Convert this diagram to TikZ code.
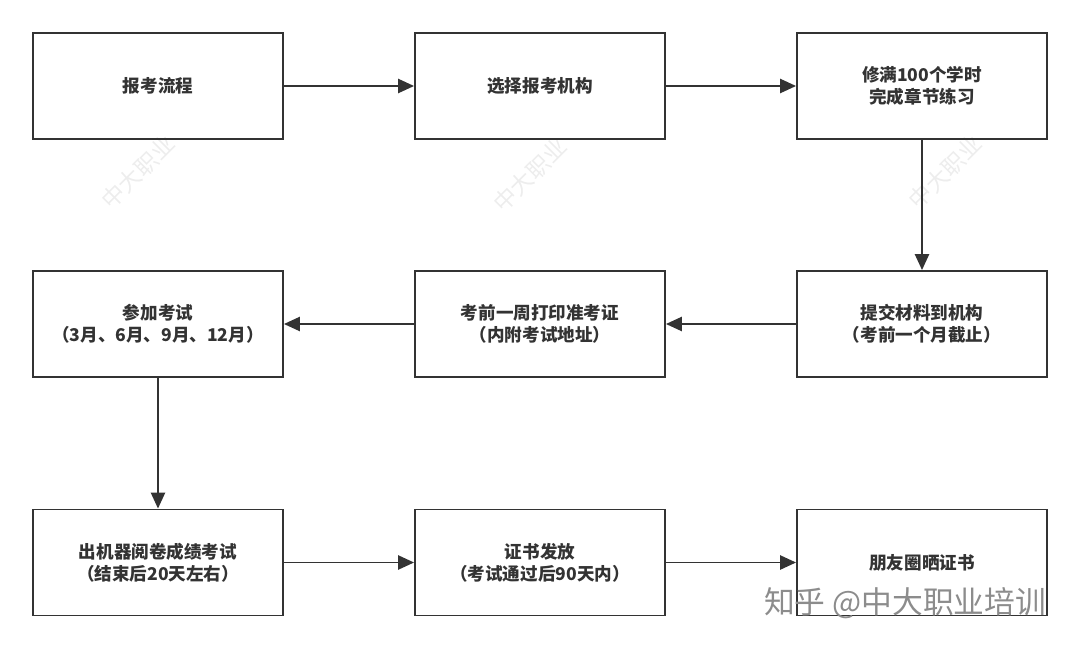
\documentclass[tikz,border=0pt]{standalone}
\usepackage{fontspec}
\usepackage{tikz}
\usetikzlibrary{arrows.meta}
\newfontfamily\cjk{Noto Sans CJK SC}

\tikzset{
    stepbox/.style={draw=black!80, line width=1.1pt, minimum width=5cm, minimum height=2.12cm,
        align=center, font=\cjk\bfseries\fontsize{10}{12.5}\selectfont, text=black!80},
    flow/.style={black!80, line width=1.1pt, -{Triangle[length=9pt, width=8pt]}},
    wmark/.style={black!7, rotate=45, font=\cjk\fontsize{13}{13}\selectfont}
}

\begin{document}
\begin{tikzpicture}
                \useasboundingbox (0, 0) rectangle (21.6, 12.98);
                % faint marks
                \node [wmark] (wm1) at (2.76, 9.54) {中大职业};
                \node [wmark] (wm2) at (10.6, 9.48) {中大职业};
                \node [wmark] (wm3) at (18.9, 9.54) {中大职业};
                % Row 1
                \node [stepbox] (baokao) at (3.16, 11.26) {报考流程};
                \node [stepbox] (jigou) at (10.8, 11.26) {选择报考机构};
                \node [stepbox] (xueshi) at (18.44, 11.26) {修满100个学时\\完成章节练习};
                % Row 2
                \node [stepbox] (tijiao) at (18.44, 6.50) {提交材料到机构\\（考前一个月截止）};
                \node [stepbox] (zhunkao) at (10.8, 6.50) {考前一周打印准考证\\（内附考试地址）};
                \node [stepbox] (kaoshi) at (3.16, 6.50) {参加考试\\（3月、6月、9月、12月）};
                % Row 3
                \node [stepbox] (chengji) at (3.16, 1.73) {出机器阅卷成绩考试\\（结束后20天左右）};
                \node [stepbox] (fafang) at (10.8, 1.73) {证书发放\\（考试通过后90天内）};
                \node [stepbox] (shai) at (18.44, 1.73) {朋友圈晒证书};
                % arrows
                \draw [flow] (baokao) -- (jigou);
                \draw [flow] (jigou) -- (xueshi);
                \draw [flow] (xueshi) -- (tijiao);
                \draw [flow] (tijiao) -- (zhunkao);
                \draw [flow] (zhunkao) -- (kaoshi);
                \draw [flow] (kaoshi) -- (chengji);
                \draw [flow] (chengji) -- (fafang);
                \draw [flow] (fafang) -- (shai);
                % corner mark
                \node [black!45, font=\cjk\fontsize{17.5}{17.5}\selectfont] (zhihu) at (18.1, 0.92) {知乎 @中大职业培训};
\end{tikzpicture}
\end{document}
